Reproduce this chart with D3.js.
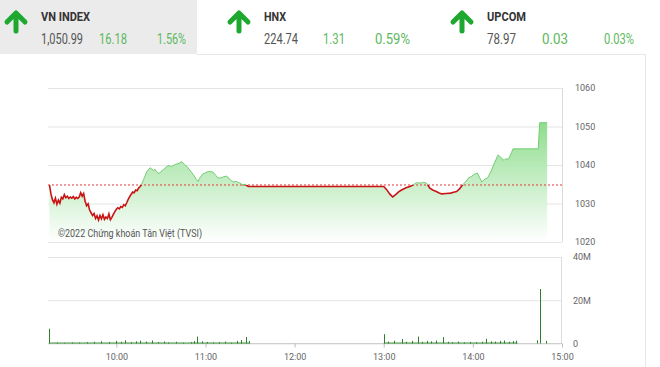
<!DOCTYPE html>
<html>
<head>
<meta charset="utf-8">
<script src="https://cdn.jsdelivr.net/npm/d3@7"></script>
<style>
  body { margin: 0; background: #fff; }
  svg { display: block; font-family: Roboto, "Noto Sans", sans-serif; }
</style>
</head>
<body>
<svg id="chart" width="660" height="367"></svg>
<script>
// header boxes
var indexNames = ["VN INDEX", "HNX", "UPCOM"];
var indexValues = ["1,050.99", "224.74", "78.97"];
var indexChanges = ["16.18", "1.31", "0.03"];
var indexPercents = ["1.56%", "0.59%", "0.03%"];

// intraday VN-Index, reference = previous close
var refPrice = 1034.81;
var priceTicks = [1020, 1030, 1040, 1050, 1060];
var volumeTicks = [0, 20, 40];
var timeTicks = ["10:00", "11:00", "12:00", "13:00", "14:00", "15:00"];

var priceSeries = [
    ["09:15", 1034.8], ["09:16", 1032.5], ["09:17", 1031.0], ["09:18", 1030.2], ["09:19", 1031.4],
    ["09:20", 1029.8], ["09:21", 1030.9], ["09:22", 1030.1], ["09:23", 1031.6], ["09:24", 1031.2],
    ["09:25", 1032.3], ["09:26", 1031.5], ["09:27", 1031.9], ["09:28", 1031.3], ["09:29", 1031.7],
    ["09:30", 1031.4], ["09:31", 1031.8], ["09:32", 1031.2], ["09:33", 1031.6], ["09:34", 1031.3],
    ["09:35", 1031.7], ["09:36", 1032.8], ["09:37", 1031.9], ["09:38", 1032.6], ["09:39", 1030.6],
    ["09:40", 1029.4], ["09:41", 1029.9], ["09:42", 1028.3], ["09:43", 1027.6], ["09:44", 1026.9],
    ["09:45", 1027.4], ["09:46", 1026.1], ["09:47", 1026.8], ["09:48", 1025.7], ["09:49", 1026.9],
    ["09:50", 1026.0], ["09:51", 1027.1], ["09:52", 1025.9], ["09:53", 1026.5], ["09:54", 1026.1],
    ["09:55", 1027.3], ["09:56", 1025.8], ["09:57", 1026.4], ["09:58", 1027.2], ["09:59", 1027.9],
    ["10:00", 1028.5], ["10:01", 1028.9], ["10:02", 1028.6], ["10:03", 1029.2], ["10:04", 1029.0],
    ["10:05", 1029.7], ["10:06", 1029.4], ["10:07", 1030.2], ["10:08", 1031.1], ["10:09", 1031.8],
    ["10:10", 1032.4], ["10:11", 1033.0], ["10:12", 1032.8], ["10:13", 1033.5], ["10:14", 1033.3],
    ["10:15", 1034.0], ["10:16", 1034.4], ["10:17", 1034.9], ["10:18", 1035.9], ["10:19", 1036.8],
    ["10:20", 1037.8], ["10:21", 1038.5], ["10:22", 1039.0], ["10:23", 1039.3], ["10:24", 1038.8],
    ["10:25", 1038.6], ["10:26", 1038.9], ["10:27", 1038.3], ["10:28", 1038.0], ["10:29", 1037.8],
    ["10:30", 1038.3], ["10:32", 1038.9], ["10:34", 1039.6], ["10:36", 1039.9], ["10:37", 1039.5],
    ["10:38", 1039.8], ["10:40", 1040.2], ["10:42", 1040.4], ["10:44", 1040.9], ["10:45", 1040.5],
    ["10:46", 1040.1], ["10:48", 1039.4], ["10:50", 1038.4], ["10:52", 1037.4], ["10:54", 1036.2],
    ["10:55", 1035.7], ["10:56", 1036.5], ["10:58", 1037.6], ["11:00", 1038.0], ["11:02", 1038.3],
    ["11:05", 1038.2], ["11:07", 1037.3], ["11:08", 1036.7], ["11:10", 1036.6], ["11:12", 1036.9],
    ["11:14", 1037.1], ["11:15", 1036.9], ["11:17", 1036.0], ["11:19", 1035.6], ["11:21", 1035.7],
    ["11:23", 1035.3], ["11:25", 1034.9], ["11:27", 1035.0], ["11:28", 1034.6], ["11:29", 1034.4],
    ["11:30", 1034.4], ["13:00", 1034.4], ["13:02", 1033.6], ["13:04", 1032.5], ["13:06", 1031.7],
    ["13:08", 1032.3], ["13:10", 1033.0], ["13:12", 1033.5], ["13:15", 1034.1], ["13:18", 1034.5],
    ["13:20", 1034.9], ["13:22", 1035.4], ["13:25", 1035.3], ["13:27", 1035.5], ["13:29", 1035.2],
    ["13:30", 1034.6], ["13:31", 1034.0], ["13:33", 1033.5], ["13:35", 1033.2], ["13:37", 1032.8],
    ["13:39", 1032.5], ["13:42", 1032.6], ["13:45", 1032.7], ["13:47", 1032.9], ["13:49", 1033.1],
    ["13:51", 1033.8], ["13:53", 1034.8], ["13:55", 1035.6], ["13:57", 1036.6], ["13:59", 1037.0],
    ["14:01", 1037.6], ["14:03", 1037.9], ["14:05", 1036.4], ["14:06", 1035.6], ["14:08", 1036.3],
    ["14:10", 1036.7], ["14:12", 1038.2], ["14:14", 1040.0], ["14:16", 1041.8], ["14:17", 1042.6],
    ["14:19", 1041.9], ["14:21", 1041.2], ["14:22", 1041.6], ["14:24", 1041.5], ["14:26", 1043.2],
    ["14:27", 1044.2], ["14:44", 1044.2], ["14:45", 1050.99], ["14:50", 1050.99]
];

// matched volume, millions of shares
var volumeSeries = [
    ["09:15", 6.8], ["09:20", 0.4], ["09:25", 0.3], ["09:30", 0.5], ["09:35", 0.4], ["09:40", 0.6],
    ["09:45", 0.8], ["09:50", 1.0], ["09:55", 0.7], ["10:00", 1.2], ["10:03", 0.8], ["10:06", 1.5],
    ["10:10", 0.6], ["10:13", 1.0], ["10:16", 1.3], ["10:20", 0.9], ["10:24", 1.4], ["10:28", 0.7],
    ["10:32", 0.9], ["10:35", 0.5], ["10:40", 0.8], ["10:45", 0.4], ["10:50", 0.6], ["10:52", 1.1],
    ["10:54", 3.2], ["10:58", 1.0], ["11:01", 0.7], ["11:05", 0.5], ["11:09", 0.6], ["11:13", 0.9],
    ["11:17", 0.4], ["11:21", 1.2], ["11:24", 1.6], ["11:27", 3.0], ["11:29", 1.1],
    ["13:00", 4.3], ["13:03", 0.9], ["13:07", 1.3], ["13:12", 2.1], ["13:15", 0.8], ["13:19", 1.2],
    ["13:23", 3.2], ["13:26", 0.8], ["13:29", 1.2], ["13:32", 1.0], ["13:35", 1.4], ["13:40", 3.0],
    ["13:43", 0.8], ["13:46", 0.6], ["13:50", 0.9], ["13:54", 0.5], ["13:58", 0.7], ["14:02", 0.6],
    ["14:06", 0.8], ["14:09", 2.2], ["14:12", 1.0], ["14:15", 0.9], ["14:18", 1.2], ["14:21", 1.4],
    ["14:24", 0.8], ["14:27", 1.1], ["14:29", 1.3], ["14:43", 1.5], ["14:45", 25.2], ["14:49", 1.2]
];

var parseTime = d3.timeParse("%H:%M");
var svg = d3.select("#chart");

// ---- header ----
var headerX = [0, 223, 446];
svg.append("rect").attr("x", 0).attr("y", 0).attr("width", 197).attr("height", 54).attr("fill", "#ebebeb");
svg.append("line").attr("x1", 197).attr("x2", 645).attr("y1", 54.5).attr("y2", 54.5).attr("stroke", "#e6e6e6");
svg.append("line").attr("x1", 645.5).attr("x2", 645.5).attr("y1", 54).attr("y2", 367).attr("stroke", "#e6e6e6");

var nameW = [49, 22, 39], valW = [42, 34, 29], chW = [28, 22, 26], pcW = [29, 35, 30];
var chX = [99, 323, 542], pcX = [157, 375, 604];

indexNames.forEach(function(name, i) {
    var g = svg.append("g").attr("transform", "translate(" + headerX[i] + ",0)");
    // up arrow
    g.append("path")
        .attr("d", "M16,31 V15 M7,22 L16,13 L25,22")
        .attr("fill", "none")
        .attr("stroke", "#1fa830")
        .attr("stroke-width", 5)
        .attr("stroke-linecap", "round")
        .attr("stroke-linejoin", "round");
    g.append("text").attr("x", 41).attr("y", 21)
        .attr("font-size", 13).attr("font-weight", "bold").attr("fill", "#333")
        .attr("textLength", nameW[i]).attr("lengthAdjust", "spacingAndGlyphs")
        .text(name);
    g.append("text").attr("x", 41).attr("y", 44)
        .attr("font-size", 14).attr("fill", "#555")
        .attr("textLength", valW[i]).attr("lengthAdjust", "spacingAndGlyphs")
        .text(indexValues[i]);
});
indexChanges.forEach(function(c, i) {
    svg.append("text").attr("x", chX[i]).attr("y", 44)
        .attr("font-size", 14).attr("fill", "#5cb85c")
        .attr("textLength", chW[i]).attr("lengthAdjust", "spacingAndGlyphs")
        .text(c);
    svg.append("text").attr("x", pcX[i]).attr("y", 44)
        .attr("font-size", 14).attr("fill", "#5cb85c")
        .attr("textLength", pcW[i]).attr("lengthAdjust", "spacingAndGlyphs")
        .text(indexPercents[i]);
});

// ---- scales ----
var xScale = d3.scaleTime().domain([parseTime("09:14"), parseTime("15:00")]).range([48, 562]);
var yScale = d3.scaleLinear().domain([1020, 1060]).range([242, 88]);
var vScale = d3.scaleLinear().domain([0, 40]).range([343.5, 257]);

var prices = priceSeries.map(function(d) { return { t: parseTime(d[0]), v: d[1] }; });
var volumes = volumeSeries.map(function(d) { return { t: parseTime(d[0]), v: d[1] }; });

// ---- price grid & axis ----
var yAxis = d3.axisRight(yScale).tickValues(priceTicks).tickSize(-514).tickPadding(13)
    .tickFormat(d3.format("d"));
var gy = svg.append("g").attr("transform", "translate(562,0)").call(yAxis);
gy.select(".domain").remove();
gy.selectAll(".tick line").attr("stroke", "#e4e4e4");
gy.selectAll(".tick text").attr("fill", "#666").attr("font-size", 9).attr("font-family", "Roboto, sans-serif");
svg.append("line").attr("x1", 562.5).attr("x2", 562.5).attr("y1", 88).attr("y2", 242).attr("stroke", "#dcdcdc");

var defs = svg.append("defs");
var grad = defs.append("linearGradient").attr("id", "fillGrad")
    .attr("gradientUnits", "userSpaceOnUse").attr("x1", 0).attr("x2", 0).attr("y1", 88).attr("y2", 242);
grad.append("stop").attr("offset", 0).attr("stop-color", "#6ed36e");
grad.append("stop").attr("offset", 1).attr("stop-color", "#ffffff");

var refY = yScale(refPrice);
defs.append("clipPath").attr("id", "above").append("rect")
    .attr("x", 0).attr("y", 0).attr("width", 660).attr("height", refY);
defs.append("clipPath").attr("id", "below").append("rect")
    .attr("x", 0).attr("y", refY).attr("width", 660).attr("height", 367 - refY);

var area = d3.area()
    .x(function(d) { return xScale(d.t); })
    .y0(yScale(1020))
    .y1(function(d) { return yScale(d.v); });
var line = d3.line()
    .x(function(d) { return xScale(d.t); })
    .y(function(d) { return yScale(d.v); });

svg.append("path").datum(prices).attr("d", area).attr("fill", "url(#fillGrad)");

svg.append("text").attr("x", 58).attr("y", 237)
    .attr("font-size", 11).attr("fill", "#555")
    .attr("textLength", 144).attr("lengthAdjust", "spacingAndGlyphs")
    .text("©2022 Chứng khoán Tân Việt (TVSI)");

svg.append("line")
    .attr("x1", 48).attr("x2", 562).attr("y1", refY).attr("y2", refY)
    .attr("stroke", "#e03a3a").attr("stroke-dasharray", "2,2").attr("stroke-width", 1);

svg.append("path").datum(prices).attr("d", line).attr("clip-path", "url(#above)")
    .attr("fill", "none").attr("stroke", "#72cc72").attr("stroke-width", 1);
svg.append("path").datum(prices).attr("d", line).attr("clip-path", "url(#below)")
    .attr("fill", "none").attr("stroke", "#c81414").attr("stroke-width", 1.6);

// ---- volume ----
var vAxis = d3.axisRight(vScale).tickValues(volumeTicks).tickSize(-513).tickPadding(12)
    .tickFormat(function(d) { return d ? d + "M" : "0"; });
var gv = svg.append("g").attr("transform", "translate(561,0)").call(vAxis);
gv.select(".domain").remove();
gv.selectAll(".tick line").attr("stroke", "#e4e4e4");
gv.selectAll(".tick text").attr("fill", "#666").attr("font-size", 9).attr("font-family", "Roboto, sans-serif");
svg.append("line").attr("x1", 561.5).attr("x2", 561.5).attr("y1", 257).attr("y2", 343.5).attr("stroke", "#dcdcdc");

var xAxis = d3.axisBottom(xScale)
    .tickValues(timeTicks.map(parseTime))
    .tickFormat(d3.timeFormat("%H:%M"))
    .tickSize(4).tickPadding(6);
var gx = svg.append("g").attr("transform", "translate(0,343.5)").call(xAxis);
gx.select(".domain").attr("stroke", "#cfcfcf").attr("d", "M48,0H562");
gx.selectAll(".tick line").attr("stroke", "#bbb");
gx.selectAll(".tick text").attr("fill", "#666").attr("font-size", 9).attr("font-family", "Roboto, sans-serif");

// baseline of traded sessions
[["09:15", "11:30"], ["13:00", "14:30"]].forEach(function(s) {
    svg.append("line")
        .attr("x1", xScale(parseTime(s[0]))).attr("x2", xScale(parseTime(s[1])))
        .attr("y1", vScale(0) - 0.5).attr("y2", vScale(0) - 0.5)
        .attr("stroke", "#3f9a3f").attr("stroke-width", 1);
});

svg.append("g").selectAll("line").data(volumes).enter()
    .append("line")
    .attr("x1", function(d) { return Math.round(xScale(d.t)) + 0.5; })
    .attr("x2", function(d) { return Math.round(xScale(d.t)) + 0.5; })
    .attr("y1", vScale(0))
    .attr("y2", function(d) { return vScale(d.v); })
    .attr("stroke", "#2f7f2f")
    .attr("stroke-width", 1);
</script>
</body>
</html>
